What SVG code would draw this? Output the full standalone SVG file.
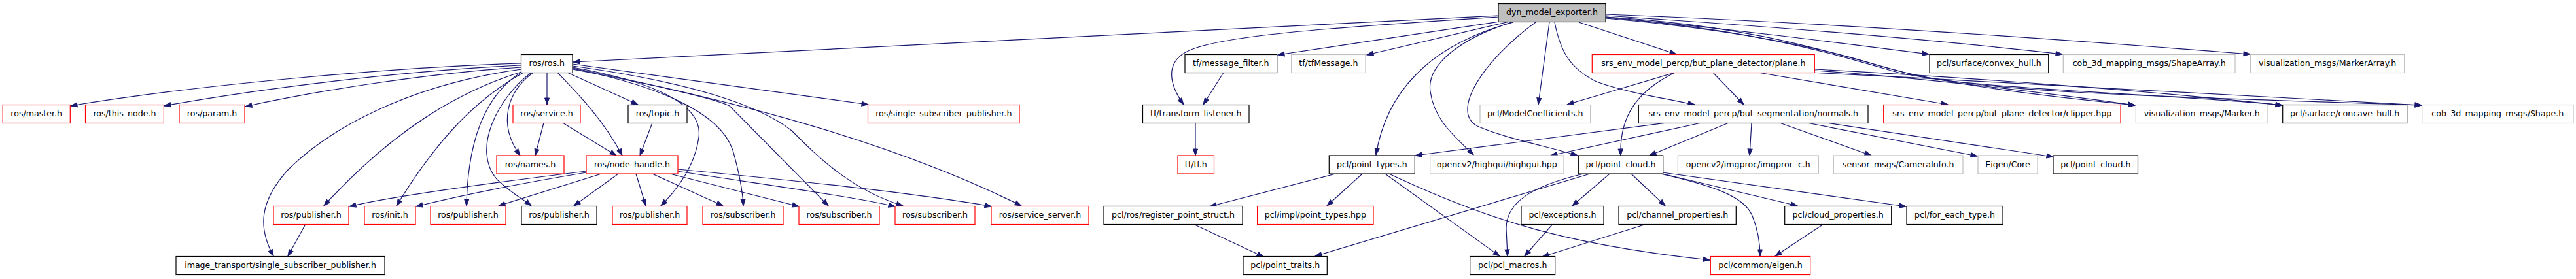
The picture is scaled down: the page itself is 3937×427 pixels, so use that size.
<svg xmlns="http://www.w3.org/2000/svg" width="3937" height="427" viewBox="0 0 3937 427">
<defs>
<style>
.n rect{fill:#fff;stroke-width:1.2}
.b rect{stroke:#000}
.r rect{stroke:#ff0000}
.g rect{stroke:#bfbfbf}
.root rect{fill:#bfbfbf;stroke:#000}
text{font-family:"DejaVu Sans","Liberation Sans",sans-serif;font-size:12.6px;fill:#000;text-anchor:middle}
#edges path{fill:none;stroke:#191970;stroke-width:1.2;marker-end:url(#a)}
</style>
<marker id="a" markerWidth="10" markerHeight="8" refX="10" refY="4" orient="auto" markerUnits="userSpaceOnUse" overflow="visible"><path d="M0,0.5 L10,4 L0,7.5 z" fill="#191970" stroke="#191970" stroke-width="1"/></marker>
</defs>
<rect width="3937" height="427" fill="#fff"/>
<g id="edges">
<!-- from dyn_model_exporter.h -->
<path d="M2290,24 L876,95"/>
<path d="M2290,26 C2080,40 1860,52 1812,80 C1782,97 1786,128 1809,160"/>
<path d="M2292,33 L1953,84"/>
<path d="M2307,33 L2089,84"/>
<path d="M2313,34 C2180,70 2118,145 2103,237"/>
<path d="M2310,34 C2230,60 2180,100 2186,140 C2192,185 2225,210 2252,237"/>
<path d="M2347,34 C2270,90 2215,170 2258,193 C2300,212 2370,225 2411,238"/>
<path d="M2368,34 L2351,160"/>
<path d="M2376,34 C2385,80 2400,105 2440,125 C2480,140 2540,150 2590,160"/>
<path d="M2413,34 L2562,83"/>
<path d="M2454,26 C2650,45 2800,64 2948,83"/>
<path d="M2454,24 C2700,40 2950,60 3152,83"/>
<path d="M2454,22 C2800,35 3150,60 3439,83"/>
<path d="M2454,28 C2650,45 2780,72 2870,100 C2950,125 3100,145 3263,161"/>
<path d="M2454,27 C2680,45 2800,82 2890,108 C2990,137 3300,142 3488,161"/>
<path d="M2454,26 C2700,40 2830,92 2920,113 C3050,145 3400,150 3701,161"/>
<!-- ros/ros.h -->
<path d="M797,97 C600,103 300,130 108,162"/>
<path d="M797,100 C620,108 400,135 251,162"/>
<path d="M797,103 C650,112 480,140 375,163"/>
<path d="M797,106 C620,130 500,200 440,260 C395,310 395,350 418,392"/>
<path d="M797,110 C700,140 600,200 495,315"/>
<path d="M800,111 C730,150 670,210 606,315"/>
<path d="M796,111 C750,140 715,200 713,315"/>
<path d="M812,111 C760,150 720,230 760,275 C780,295 800,305 812,315"/>
<path d="M815,111 C775,140 760,190 795,238"/>
<path d="M836,111 L836,160"/>
<path d="M852,111 C880,140 920,180 951,238"/>
<path d="M867,111 L975,160"/>
<path d="M875,103 C1000,125 1075,160 1068,210 C1062,255 1035,290 1010,315"/>
<path d="M875,105 C1000,130 1100,170 1120,230 C1130,265 1135,290 1136,315"/>
<path d="M875,106 C1000,130 1090,150 1115,162 L1266,315"/>
<path d="M875,101 C1050,125 1160,160 1210,200 C1250,240 1300,290 1380,315"/>
<path d="M875,98 L1327,160"/>
<path d="M875,104 C1100,150 1350,210 1561,315"/>
<!-- ros/service.h, ros/topic.h -->
<path d="M831,188 L818,238"/>
<path d="M860,188 L942,238"/>
<path d="M997,188 L978,238"/>
<!-- ros/node_handle.h -->
<path d="M896,262 C750,280 600,300 534,316"/>
<path d="M896,264 C800,280 700,300 636,316"/>
<path d="M919,266 L762,315"/>
<path d="M945,266 L877,315"/>
<path d="M972,266 L987,315"/>
<path d="M997,266 L1105,315"/>
<path d="M1024,266 L1221,316"/>
<path d="M1036,262 C1150,280 1300,300 1368,316"/>
<path d="M1036,259 C1200,275 1400,295 1515,316"/>
<!-- ros/publisher.h -->
<path d="M467,343 L440,392"/>
<!-- tf -->
<path d="M1870,111 L1839,160"/>
<path d="M1827,188 L1827,238"/>
<!-- plane.h -->
<path d="M2560,111 L2395,160"/>
<path d="M2560,111 C2500,140 2475,180 2477,238"/>
<path d="M2618,111 L2665,160"/>
<path d="M2687,111 L2977,160"/>
<path d="M2773,108 C2950,120 3150,145 3263,161"/>
<path d="M2773,106 C3000,118 3300,140 3488,161"/>
<path d="M2767,111 C3100,128 3450,145 3701,161"/>
<!-- normals.h -->
<path d="M2547,188 L2163,238"/>
<path d="M2600,188 L2370,238"/>
<path d="M2642,188 L2521,238"/>
<path d="M2677,188 L2674,238"/>
<path d="M2720,188 L2860,238"/>
<path d="M2762,188 L3022,239"/>
<path d="M2791,188 L3138,240"/>
<!-- pcl/point_types.h -->
<path d="M2041,266 L1849,316"/>
<path d="M2082,266 L2028,315"/>
<path d="M2117,266 L2292,392"/>
<path d="M2123,266 C2280,340 2400,375 2613,398"/>
<!-- pcl/point_cloud.h -->
<path d="M2430,266 L2010,392"/>
<path d="M2420,266 C2340,285 2302,310 2302,350 L2304,392"/>
<path d="M2460,266 L2403,315"/>
<path d="M2493,266 L2545,315"/>
<path d="M2538,266 C2620,285 2665,300 2678,330 C2688,355 2690,375 2690,392"/>
<path d="M2541,266 L2747,315"/>
<path d="M2541,264 L2913,316"/>
<!-- others -->
<path d="M1824,343 L1931,393"/>
<path d="M2373,343 L2330,392"/>
<path d="M2516,343 L2357,393"/>
<path d="M2787,343 L2713,392"/>
</g>
<g id="n_dyn" class="n root"><rect x="2290" y="5.5" width="164" height="28"/><text x="2372" y="23">dyn_model_exporter.h</text></g>
<g id="n_ros_ros" class="n b"><rect x="796.5" y="83.5" width="78.5" height="28"/><text x="835.8" y="101">ros/ros.h</text></g>
<g id="n_tf_message_filter" class="n b"><rect x="1811" y="83.5" width="140.7" height="28"/><text x="1881.3" y="101">tf/message_filter.h</text></g>
<g id="n_tf_tfMessage" class="n g"><rect x="1973.7" y="83.5" width="113.3" height="28"/><text x="2030.3" y="101">tf/tfMessage.h</text></g>
<g id="n_plane" class="n r"><rect x="2433.3" y="83.5" width="340" height="28"/><text x="2603.3" y="101">srs_env_model_percp/but_plane_detector/plane.h</text></g>
<g id="n_convex_hull" class="n b"><rect x="2949" y="83.5" width="181.7" height="28"/><text x="3039.8" y="101">pcl/surface/convex_hull.h</text></g>
<g id="n_shapearray" class="n g"><rect x="3153.3" y="83.5" width="262.7" height="28"/><text x="3284.7" y="101">cob_3d_mapping_msgs/ShapeArray.h</text></g>
<g id="n_markerarray" class="n g"><rect x="3439.7" y="83.5" width="235" height="28"/><text x="3557.2" y="101">visualization_msgs/MarkerArray.h</text></g>
<g id="n_ros_master" class="n r"><rect x="4.2" y="160.5" width="103.1" height="28"/><text x="55.7" y="178">ros/master.h</text></g>
<g id="n_ros_this_node" class="n r"><rect x="130.5" y="160.5" width="119.9" height="28"/><text x="190.5" y="178">ros/this_node.h</text></g>
<g id="n_ros_param" class="n r"><rect x="274" y="160.5" width="100" height="28"/><text x="324" y="178">ros/param.h</text></g>
<g id="n_ros_service" class="n r"><rect x="784" y="160.5" width="103" height="28"/><text x="835.5" y="178">ros/service.h</text></g>
<g id="n_ros_topic" class="n b"><rect x="960" y="160.5" width="90" height="28"/><text x="1005" y="178">ros/topic.h</text></g>
<g id="n_ros_single_sub_pub" class="n r"><rect x="1326.5" y="160.5" width="231.5" height="28"/><text x="1442.3" y="178">ros/single_subscriber_publisher.h</text></g>
<g id="n_tf_transform_listener" class="n b"><rect x="1746.5" y="160.5" width="162.5" height="28"/><text x="1827.8" y="178">tf/transform_listener.h</text></g>
<g id="n_modelcoefficients" class="n g"><rect x="2262" y="160.5" width="168.7" height="28"/><text x="2346.3" y="178">pcl/ModelCoefficients.h</text></g>
<g id="n_normals" class="n b"><rect x="2504.3" y="160.5" width="350.7" height="28"/><text x="2679.7" y="178">srs_env_model_percp/but_segmentation/normals.h</text></g>
<g id="n_clipper" class="n r"><rect x="2878.7" y="160.5" width="362.3" height="28"/><text x="3059.8" y="178">srs_env_model_percp/but_plane_detector/clipper.hpp</text></g>
<g id="n_marker" class="n g"><rect x="3264.3" y="160.5" width="201.7" height="28"/><text x="3365.2" y="178">visualization_msgs/Marker.h</text></g>
<g id="n_concave_hull" class="n b"><rect x="3488.7" y="160.5" width="190" height="28"/><text x="3583.7" y="178">pcl/surface/concave_hull.h</text></g>
<g id="n_shape" class="n g"><rect x="3701.7" y="160.5" width="231.3" height="28"/><text x="3817.3" y="178">cob_3d_mapping_msgs/Shape.h</text></g>
<g id="n_ros_names" class="n r"><rect x="759" y="238" width="103" height="28"/><text x="810.5" y="255.5">ros/names.h</text></g>
<g id="n_ros_node_handle" class="n r"><rect x="896" y="238" width="140" height="28"/><text x="966" y="255.5">ros/node_handle.h</text></g>
<g id="n_tf_tf" class="n r"><rect x="1800" y="238" width="55.5" height="28"/><text x="1827.8" y="255.5">tf/tf.h</text></g>
<g id="n_point_types" class="n b"><rect x="2031.3" y="238" width="131" height="28"/><text x="2096.8" y="255.5">pcl/point_types.h</text></g>
<g id="n_highgui" class="n g"><rect x="2185.7" y="238" width="204.3" height="28"/><text x="2287.8" y="255.5">opencv2/highgui/highgui.hpp</text></g>
<g id="n_point_cloud" class="n b"><rect x="2412.3" y="238" width="129.4" height="28"/><text x="2477" y="255.5">pcl/point_cloud.h</text></g>
<g id="n_imgproc" class="n g"><rect x="2564.3" y="238" width="215" height="28"/><text x="2671.8" y="255.5">opencv2/imgproc/imgproc_c.h</text></g>
<g id="n_camerainfo" class="n g"><rect x="2802.3" y="238" width="197.7" height="28"/><text x="2901.2" y="255.5">sensor_msgs/CameraInfo.h</text></g>
<g id="n_eigen_core" class="n g"><rect x="3023" y="238" width="91" height="28"/><text x="3068.5" y="255.5">Eigen/Core</text></g>
<g id="n_point_cloud2" class="n b"><rect x="3138" y="238" width="129.5" height="28"/><text x="3202.8" y="255.5">pcl/point_cloud.h</text></g>
<g id="n_pub_a" class="n r"><rect x="418" y="315.5" width="115" height="28"/><text x="475.5" y="333">ros/publisher.h</text></g>
<g id="n_ros_init" class="n r"><rect x="557" y="315.5" width="78" height="28"/><text x="596" y="333">ros/init.h</text></g>
<g id="n_pub_b" class="n r"><rect x="658" y="315.5" width="115" height="28"/><text x="715.5" y="333">ros/publisher.h</text></g>
<g id="n_pub_c" class="n b"><rect x="797" y="315.5" width="115" height="28"/><text x="854.5" y="333">ros/publisher.h</text></g>
<g id="n_pub_d" class="n r"><rect x="936" y="315.5" width="114" height="28"/><text x="993" y="333">ros/publisher.h</text></g>
<g id="n_sub_a" class="n r"><rect x="1074" y="315.5" width="123" height="28"/><text x="1135.5" y="333">ros/subscriber.h</text></g>
<g id="n_sub_b" class="n r"><rect x="1221" y="315.5" width="123" height="28"/><text x="1282.5" y="333">ros/subscriber.h</text></g>
<g id="n_sub_c" class="n r"><rect x="1368" y="315.5" width="122" height="28"/><text x="1429" y="333">ros/subscriber.h</text></g>
<g id="n_service_server" class="n r"><rect x="1515" y="315.5" width="149" height="28"/><text x="1589.5" y="333">ros/service_server.h</text></g>
<g id="n_register_point_struct" class="n b"><rect x="1687" y="315.5" width="212" height="28"/><text x="1793" y="333">pcl/ros/register_point_struct.h</text></g>
<g id="n_impl_point_types" class="n r"><rect x="1921.6" y="315.5" width="177.4" height="28"/><text x="2010.3" y="333">pcl/impl/point_types.hpp</text></g>
<g id="n_exceptions" class="n b"><rect x="2325" y="315.5" width="126" height="28"/><text x="2388" y="333">pcl/exceptions.h</text></g>
<g id="n_channel_properties" class="n b"><rect x="2474" y="315.5" width="179.3" height="28"/><text x="2563.7" y="333">pcl/channel_properties.h</text></g>
<g id="n_cloud_properties" class="n b"><rect x="2727.7" y="315.5" width="163" height="28"/><text x="2809.2" y="333">pcl/cloud_properties.h</text></g>
<g id="n_for_each_type" class="n b"><rect x="2914" y="315.5" width="147" height="28"/><text x="2987.5" y="333">pcl/for_each_type.h</text></g>
<g id="n_image_transport" class="n b"><rect x="269" y="392.5" width="319" height="28"/><text x="428.5" y="410">image_transport/single_subscriber_publisher.h</text></g>
<g id="n_point_traits" class="n b"><rect x="1900" y="392.5" width="128.3" height="28"/><text x="1964.2" y="410">pcl/point_traits.h</text></g>
<g id="n_pcl_macros" class="n b"><rect x="2246.7" y="392.5" width="130" height="28"/><text x="2311.7" y="410">pcl/pcl_macros.h</text></g>
<g id="n_common_eigen" class="n r"><rect x="2614.3" y="392.5" width="152.4" height="28"/><text x="2690.5" y="410">pcl/common/eigen.h</text></g>
</svg>
